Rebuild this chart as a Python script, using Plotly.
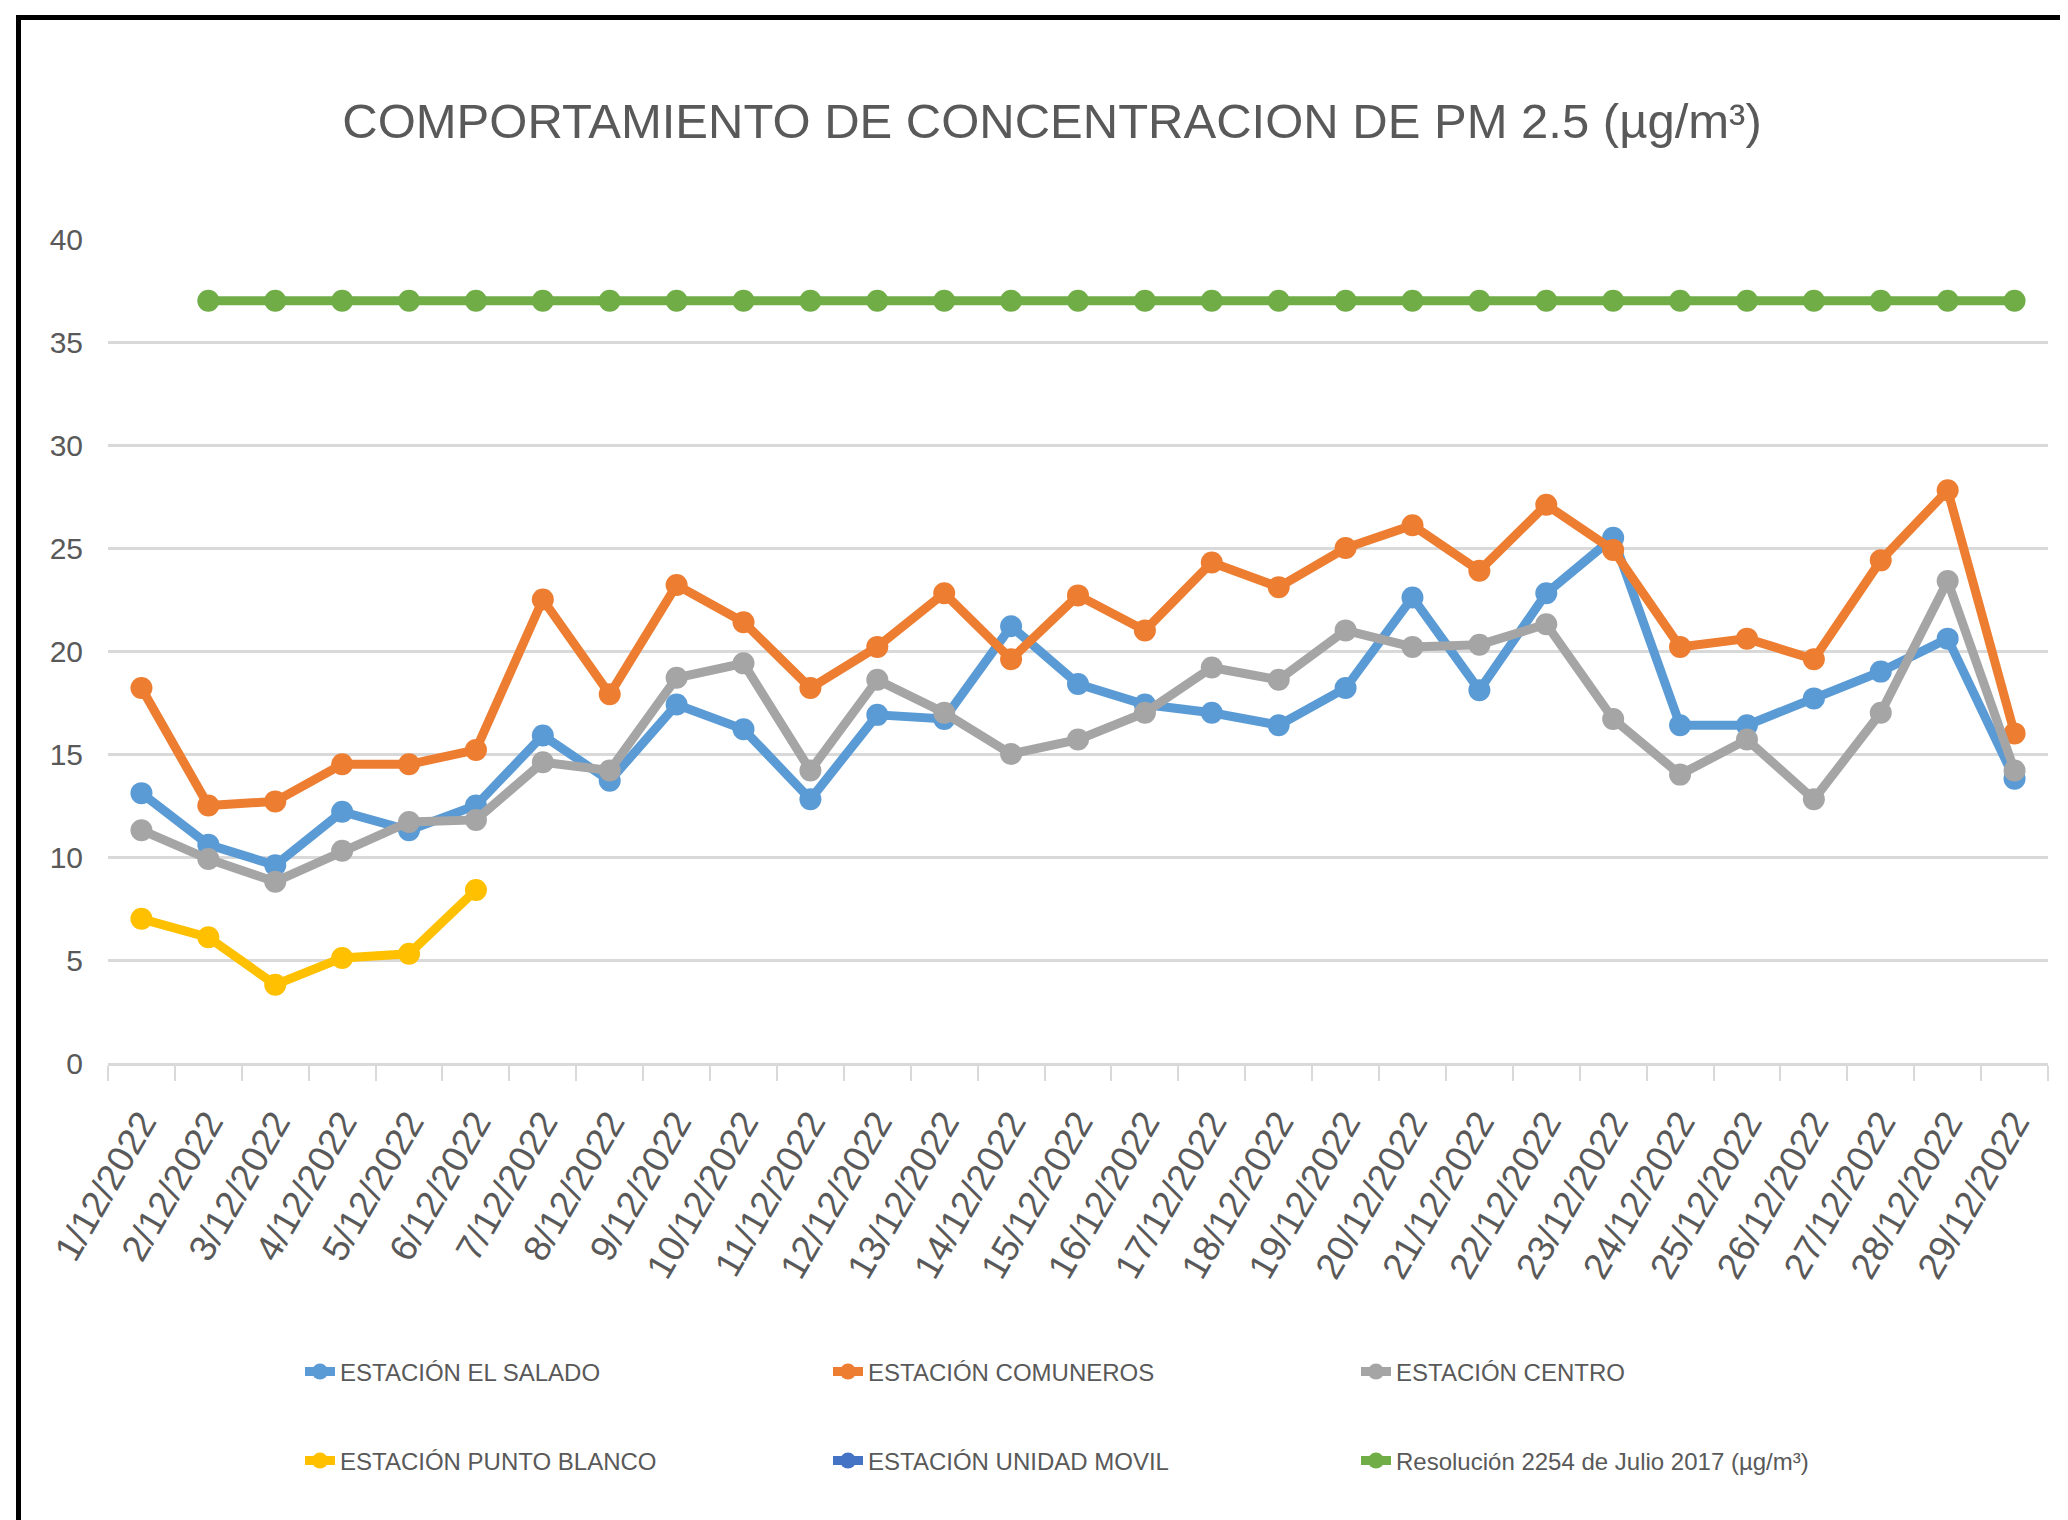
import plotly.graph_objects as go

# Days of December 2022
dates = [f"{d}/12/2022" for d in range(1, 30)]

# PM 2.5 concentration per station (µg/m³)
el_salado = [13.1, 10.6, 9.6, 12.2, 11.3, 12.5, 15.9, 13.7, 17.4, 16.2,
             12.8, 16.9, 16.7, 21.2, 18.4, 17.4, 17.0, 16.4, 18.2, 22.6,
             18.1, 22.8, 25.5, 16.4, 16.4, 17.7, 19.0, 20.6, 13.8]
comuneros = [18.2, 12.5, 12.7, 14.5, 14.5, 15.2, 22.5, 17.9, 23.2, 21.4,
             18.2, 20.2, 22.8, 19.6, 22.7, 21.0, 24.3, 23.1, 25.0, 26.1,
             23.9, 27.1, 24.9, 20.2, 20.6, 19.6, 24.4, 27.8, 16.0]
centro = [11.3, 9.9, 8.8, 10.3, 11.7, 11.8, 14.6, 14.2, 18.7, 19.4,
          14.2, 18.6, 17.0, 15.0, 15.7, 17.0, 19.2, 18.6, 21.0, 20.2,
          20.3, 21.3, 16.7, 14.0, 15.7, 12.8, 17.0, 23.4, 14.2]
punto_blanco = [7.0, 6.1, 3.8, 5.1, 5.3, 8.4] + [None] * 23
unidad_movil = [None] * 29
resolucion = [None] + [37] * 28

series = [
    ("ESTACIÓN EL SALADO", el_salado, "#5B9BD5", "legend"),
    ("ESTACIÓN COMUNEROS", comuneros, "#ED7D31", "legend"),
    ("ESTACIÓN CENTRO", centro, "#A5A5A5", "legend"),
    ("ESTACIÓN PUNTO BLANCO", punto_blanco, "#FFC000", "legend2"),
    ("ESTACIÓN UNIDAD MOVIL", unidad_movil, "#4472C4", "legend2"),
    ("Resolución 2254 de Julio 2017 (µg/m³)", resolucion, "#70AD47", "legend2"),
]

FONT = "Liberation Sans, Arial, sans-serif"
TEXT = "#595959"
GRID = "#D9D9D9"

# the page body adds an 8px margin, so work in div pixels
OFF = 8
L, R, T, B = 108 - OFF, 2048 - OFF, 239 - OFF, 1063 - OFF
W, H = 2068, 1520


def px_x(p):
    # page pixel -> paper x
    return (p - OFF - L) / (R - L)


def px_y(p):
    # page pixel -> paper y
    return (B - (p - OFF)) / (B - T)


fig = go.Figure()
for name, vals, color, leg in series:
    fig.add_trace(go.Scatter(
        x=dates, y=vals, name=name, mode="lines+markers",
        line=dict(color=color, width=9),
        marker=dict(color=color, size=22),
        legend=leg,
    ))

legend_style = dict(
    orientation="h", x=px_x(300), xanchor="left", yanchor="middle",
    entrywidth=483, entrywidthmode="pixels",
    font=dict(size=24, color=TEXT), bgcolor="rgba(0,0,0,0)",
)

fig.update_layout(
    width=W, height=H,
    margin=dict(l=L, r=W - R, t=T, b=H - B),
    paper_bgcolor="white", plot_bgcolor="white",
    font=dict(family=FONT, color=TEXT),
    title=dict(
        text="COMPORTAMIENTO DE CONCENTRACION DE PM 2.5 (µg/m³)",
        x=1044 / W, xanchor="center", y=1 - 113 / H, yanchor="middle",
        xref="container", yref="container",
        font=dict(size=49, color=TEXT, family=FONT),
    ),
    xaxis=dict(
        type="category", tickmode="linear", dtick=1,
        range=[-0.5, 28.5], automargin=False,
        tickangle=-60, tickfont=dict(size=37, color=TEXT),
        showline=True, linecolor=GRID, linewidth=3,
        ticks="outside", tickson="boundaries", ticklen=15,
        tickwidth=2, tickcolor=GRID, showgrid=False,
        ticklabelstandoff=20,
    ),
    yaxis=dict(
        range=[0, 40], dtick=5, tickfont=dict(size=30, color=TEXT),
        gridcolor=GRID, gridwidth=3, zeroline=False,
        ticklabelstandoff=24, automargin=False,
    ),
    legend=dict(legend_style, y=px_y(1372)),
    legend2=dict(legend_style, y=px_y(1461)),
    shapes=[
        dict(type="line", xref="paper", yref="paper",
             x0=px_x(16), x1=px_x(W + 10), y0=px_y(17.5), y1=px_y(17.5),
             line=dict(color="black", width=5)),
        dict(type="line", xref="paper", yref="paper",
             x0=px_x(18.5), x1=px_x(18.5), y0=px_y(15), y1=px_y(H + 10),
             line=dict(color="black", width=5)),
    ],
)

fig.write_html("out.html")
